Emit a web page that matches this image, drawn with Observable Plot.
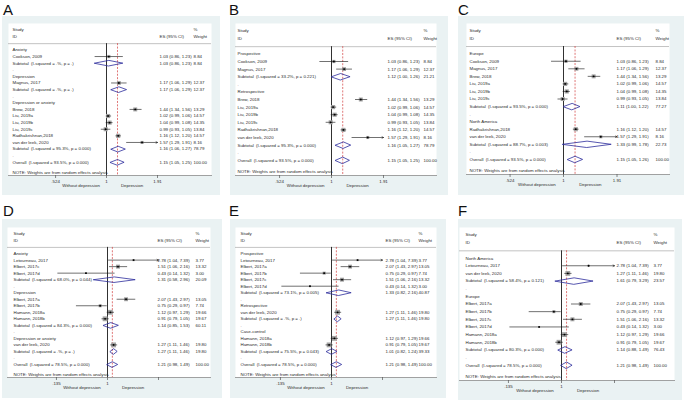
<!DOCTYPE html>
<html><head><meta charset="utf-8">
<script src="https://cdn.jsdelivr.net/npm/d3@7"></script>
<script src="https://cdn.jsdelivr.net/npm/@observablehq/plot@0.6"></script>
<style>
body{margin:0;background:#fff;font-family:"Liberation Sans",Arial,sans-serif;}
#wrap{position:relative;width:685px;height:400px;overflow:hidden;background:#fff;}
.letter{position:absolute;font-size:15px;line-height:1;color:#111;}
.panel{position:absolute;background:#eaf2f3;}
.panel svg{display:block;overflow:visible;}
</style></head><body><div id="wrap"></div>
<script>
// ---------- DATA ----------
const A_label = ["Anxiety","Cookson, 2009","Subtotal  (I-squared = .%, p = .)",".","Depression","Magnus, 2017","Subtotal  (I-squared = .%, p = .)",".","Depression or anxiety","Brew, 2018","Liu, 2019a","Liu, 2019b","Liu, 2019c","Radhakrishnan,2018","van der leek, 2020","Subtotal  (I-squared = 95.3%, p = 0.000)",".","Overall  (I-squared = 93.5%, p = 0.000)"];
const A_es = [null,1.03,1.03,null,null,1.17,1.17,null,null,1.44,1.02,1.04,0.99,1.16,1.57,1.16,null,1.15];
const A_lo = [null,0.86,0.86,null,null,1.06,1.06,null,null,1.34,0.99,0.99,0.93,1.12,1.29,1.06,null,1.05];
const A_hi = [null,1.23,1.23,null,null,1.29,1.29,null,null,1.56,1.06,1.08,1.05,1.20,1.91,1.27,null,1.25];
const A_wt = [null,8.84,8.84,null,null,12.37,12.37,null,null,13.29,14.57,14.35,13.84,14.57,8.16,78.79,null,100.00];

const B_label = ["Prospective","Cookson, 2009","Magnus, 2017","Subtotal  (I-squared = 33.2%, p = 0.221)",".","Retrospective","Brew, 2018","Liu, 2019a","Liu, 2019b","Liu, 2019c","Radhakrishnan,2018","van der leek, 2020","Subtotal  (I-squared = 95.3%, p = 0.000)",".","Overall  (I-squared = 93.5%, p = 0.000)"];
const B_es = [null,1.03,1.17,1.12,null,null,1.44,1.02,1.04,0.99,1.16,1.57,1.16,null,1.15];
const B_lo = [null,0.86,1.06,1.00,null,null,1.34,0.99,0.99,0.93,1.12,1.29,1.05,null,1.05];
const B_hi = [null,1.23,1.29,1.26,null,null,1.56,1.06,1.08,1.05,1.20,1.91,1.27,null,1.25];
const B_wt = [null,8.84,12.37,21.21,null,null,13.29,14.57,14.35,13.84,14.57,8.16,78.79,null,100.00];

const C_label = ["Europe","Cookson, 2009","Magnus, 2017","Brew, 2018","Liu, 2019a","Liu, 2019b","Liu, 2019c","Subtotal  (I-squared = 93.5%, p = 0.000)",".","North America","Radhakrishnan,2018","van der leek, 2020","Subtotal  (I-squared = 88.7%, p = 0.003)",".","Overall  (I-squared = 93.5%, p = 0.000)"];
const C_es = [null,1.03,1.17,1.44,1.02,1.04,0.99,1.11,null,null,1.16,1.57,1.33,null,1.15];
const C_lo = [null,0.86,1.06,1.34,0.99,0.99,0.93,1.00,null,null,1.12,1.29,0.99,null,1.05];
const C_hi = [null,1.23,1.29,1.56,1.06,1.08,1.05,1.22,null,null,1.20,1.91,1.78,null,1.26];
const C_wt = [null,8.84,12.37,13.29,14.57,14.35,13.84,77.27,null,null,14.57,8.16,22.73,null,100.00];

const D_label = ["Anxiety","Letourneau, 2017","Elbert, 2017c","Elbert, 2017d","Subtotal  (I-squared = 68.0%, p = 0.044)",".","Depression","Elbert, 2017a","Elbert, 2017b","Hamann, 2018a","Hamann, 2018b","Subtotal  (I-squared = 84.3%, p = 0.000)",".","Depression or anxiety","van der leek, 2020","Subtotal  (I-squared = .%, p = .)",".","Overall  (I-squared = 78.5%, p = 0.000)"];
const D_es = [null,2.78,1.51,0.43,1.31,null,null,2.07,0.75,1.12,0.91,1.14,null,null,1.27,1.27,null,1.21];
const D_lo = [null,1.04,1.06,0.14,0.58,null,null,1.43,0.29,0.97,0.79,0.85,null,null,1.11,1.11,null,0.98];
const D_hi = [null,7.39,2.16,1.32,2.96,null,null,2.97,0.97,1.29,1.05,1.53,null,null,1.46,1.46,null,1.49];
const D_wt = [null,3.77,13.32,3.00,20.09,null,null,13.05,7.74,19.66,19.67,60.11,null,null,19.80,19.80,null,100.00];

const E_label = ["Prospective","Letourneau, 2017","Elbert, 2017a","Elbert, 2017b","Elbert, 2017c","Elbert, 2017d","Subtotal  (I-squared = 73.1%, p = 0.005)",".","Retrospective","van der leek, 2020","Subtotal  (I-squared = .%, p = .)",".","Case-control","Hamann, 2018a","Hamann, 2018b","Subtotal  (I-squared = 75.5%, p = 0.043)",".","Overall  (I-squared = 78.5%, p = 0.000)"];
const E_es = [null,2.78,2.07,0.75,1.51,0.43,1.33,null,null,1.27,1.27,null,null,1.12,0.91,1.01,null,1.21];
const E_lo = [null,1.04,1.43,0.29,1.06,0.14,0.82,null,null,1.11,1.11,null,null,0.97,0.79,0.82,null,0.98];
const E_hi = [null,7.39,2.97,0.97,2.16,1.32,2.16,null,null,1.46,1.46,null,null,1.29,1.05,1.24,null,1.49];
const E_wt = [null,3.77,13.05,7.74,13.32,3.00,40.87,null,null,19.80,19.80,null,null,19.66,19.67,39.33,null,100.00];

const F_label = ["North America","Letourneau, 2017","van der leek, 2020","Subtotal  (I-squared = 58.4%, p = 0.121)",".","Europe","Elbert, 2017a","Elbert, 2017b","Elbert, 2017c","Elbert, 2017d","Hamann, 2018a","Hamann, 2018b","Subtotal  (I-squared = 80.3%, p = 0.000)",".","Overall  (I-squared = 78.5%, p = 0.000)"];
const F_es = [null,2.78,1.27,1.61,null,null,2.07,0.75,1.51,0.43,1.12,0.91,1.14,null,1.21];
const F_lo = [null,1.04,1.11,0.79,null,null,1.43,0.29,1.06,0.14,0.97,0.79,0.88,null,0.98];
const F_hi = [null,7.39,1.46,3.29,null,null,2.97,0.97,2.16,1.32,1.29,1.05,1.49,null,1.49];
const F_wt = [null,3.77,19.80,23.57,null,null,13.05,7.74,13.32,3.00,19.66,19.67,76.43,null,100.00];

const ticksTop = [0.524, 1, 1.91];
const tickLabelsTop = [".524", "1", "1.91"];
const ticksBottom = [0.135, 1, 7.39];
const tickLabelsBottom = [".135", "1", "7.39"];
const sideCaptions = ["Without depression", "Depression"];
const headerLeft = ["Study", "ID"];
const headerES = "ES (95% CI)";
const headerWeight = ["%", "Weight"];
const noteText = "NOTE: Weights are from random effects analysis";

// ---------- LAYOUT ----------
const panels = [
  {id:"A", label:A_label, es:A_es, lo:A_lo, hi:A_hi, wt:A_wt, ticks:ticksTop, tickLabels:tickLabelsTop,
   letter:[3,2], bg:[2,16,220,195], frame:[8,23,211,175], one:106, tickPx:51, labelX:12, esX:159, wX:193},
  {id:"B", label:B_label, es:B_es, lo:B_lo, hi:B_hi, wt:B_wt, ticks:ticksTop, tickLabels:tickLabelsTop,
   letter:[229,2], bg:[230,16,448,195], frame:[235,23,436,175], one:331, tickPx:52, labelX:237, esX:387, wX:423},
  {id:"C", label:C_label, es:C_es, lo:C_lo, hi:C_hi, wt:C_wt, ticks:ticksTop, tickLabels:tickLabelsTop,
   letter:[458,2], bg:[458,16,684,195], frame:[466,23,669,174], one:563, tickPx:53.5, labelX:469, esX:616, wX:655},
  {id:"D", label:D_label, es:D_es, lo:D_lo, hi:D_hi, wt:D_wt, ticks:ticksBottom, tickLabels:tickLabelsBottom,
   letter:[3,203], bg:[2,219,222,398], frame:[7,227,210,377], one:107, tickPx:51, labelX:13, esX:157, wX:195},
  {id:"E", label:E_label, es:E_es, lo:E_lo, hi:E_hi, wt:E_wt, ticks:ticksBottom, tickLabels:tickLabelsBottom,
   letter:[229,203], bg:[230,219,446,398], frame:[235,227,436,377], one:331, tickPx:51, labelX:240, esX:385, wX:418},
  {id:"F", label:F_label, es:F_es, lo:F_lo, hi:F_hi, wt:F_wt, ticks:ticksBottom, tickLabels:tickLabelsBottom,
   letter:[458,203], bg:[458,219,682,400], frame:[459,227,674,380], one:561, tickPx:53, labelX:465, esX:616, wX:653}
];

const wrap = document.getElementById("wrap");
const FS = 4.4;
const TXT = "#2a2a2a";
const DIAMOND = "#2c2c9c";

for (const p of panels) {
  const rows = p.label.map((l, i) => ({label: l, r: i, es: p.es[i], lo: p.lo[i], hi: p.hi[i], wt: p.wt[i]}));
  const n = rows.length;
  const isPooled = d => /^(Subtotal|Overall)/.test(d.label);
  const studies = rows.filter(d => d.es != null && !isPooled(d));
  const pooled = rows.filter(d => d.es != null && isPooled(d));
  const overall = rows.find(d => /^Overall/.test(d.label));
  const tMin = p.ticks[0], tMax = p.ticks[p.ticks.length - 1];
  const plain = studies.filter(d => d.hi < tMax);
  const arrowed = studies.filter(d => d.hi >= tMax);
  const hh = 0.42;
  const diamondPts = pooled.flatMap(d => [
    {x: d.lo, y: d.r, z: d.r}, {x: d.es, y: d.r - hh, z: d.r},
    {x: d.hi, y: d.r, z: d.r}, {x: d.es, y: d.r + hh, z: d.r}
  ]);

  const [bx0, by0, bx1, by1] = p.bg;
  const [fx0, fy0, fx1, fy1] = p.frame;
  const width = bx1 - bx0, height = by1 - by0;
  const W = fx1 - fx0;
  const p1 = p.one - fx0;
  const k = Math.log(tMax) / p.tickPx;
  const xDomain = [Math.exp(-p1 * k), Math.exp((W - p1) * k)];
  const yTop = -4, yBot = n + 1;
  const sep = -0.95;

  const letter = document.createElement("div");
  letter.className = "letter";
  letter.style.left = p.letter[0] + "px";
  letter.style.top = p.letter[1] + "px";
  letter.textContent = p.id;
  wrap.appendChild(letter);

  const box = document.createElement("div");
  box.className = "panel";
  box.style.left = bx0 + "px"; box.style.top = by0 + "px";
  box.style.width = width + "px"; box.style.height = height + "px";
  wrap.appendChild(box);

  const tf = d => p.tickLabels[p.ticks.indexOf(d)];
  const capX = [Math.sqrt(tMin * 1), Math.sqrt(tMax * 1)];
  const caps = sideCaptions.map((t, i) => ({t, x: capX[i]}));

  const chart = Plot.plot({
    width, height,
    marginLeft: fx0 - bx0, marginRight: bx1 - fx1,
    marginTop: fy0 - by0, marginBottom: by1 - fy1,
    style: {fontFamily: "'Liberation Sans', Arial, sans-serif", fontSize: FS + "px", background: "transparent", color: TXT, overflow: "visible"},
    x: {type: "log", domain: xDomain, axis: null},
    y: {type: "linear", domain: [yTop, yBot], range: [fy0 - by0, fy1 - by0], axis: null},
    r: {type: "sqrt", domain: [0, 20], range: [0, 2.75]},
    marks: [
      Plot.frame({fill: "white", stroke: "none"}),
      Plot.frame({anchor: "bottom", stroke: "#8a8a8a", strokeWidth: 0.8}),
      Plot.ruleY([sep], {stroke: "#9a9a9a", strokeWidth: 0.6}),
      Plot.ruleX([1], {y1: sep, y2: yBot, stroke: "#1a1a1a", strokeWidth: 0.9}),
      Plot.ruleX([overall.es], {y1: sep, y2: yBot, stroke: "#d23c3c", strokeWidth: 0.7, strokeDasharray: "2,1.4"}),
      Plot.dot(studies, {x: "es", y: "r", r: "wt", symbol: "square", fill: "#a3a3a3", stroke: "none"}),
      Plot.link(plain, {x1: "lo", x2: "hi", y1: "r", y2: "r", stroke: "#111", strokeWidth: 0.6}),
      Plot.arrow(arrowed, {x1: "lo", x2: "hi", y1: "r", y2: "r", stroke: "#111", strokeWidth: 0.6, headLength: 4, headAngle: 55}),
      Plot.dot(studies, {x: "es", y: "r", r: 0.9, fill: "#000", stroke: "none"}),
      Plot.line(diamondPts, {x: "x", y: "y", z: "z", curve: "linear-closed", stroke: DIAMOND, strokeWidth: 0.8, fill: "none"}),
      // header
      Plot.text(headerLeft, {y: (d, i) => [-3.1, -2][i], text: d => d, frameAnchor: "left", dx: p.labelX - fx0, textAnchor: "start", fontSize: FS, fill: TXT}),
      Plot.text([headerES], {y: () => -2, text: d => d, frameAnchor: "left", dx: p.esX - fx0, textAnchor: "start", fontSize: FS, fill: TXT}),
      Plot.text(headerWeight, {y: (d, i) => [-3.1, -2][i], text: d => d, frameAnchor: "left", dx: p.wX - fx0, textAnchor: "start", fontSize: FS, fill: TXT}),
      // row labels
      Plot.text(rows, {y: "r", text: "label", frameAnchor: "left", dx: p.labelX - fx0, textAnchor: "start", fontSize: FS, fill: TXT}),
      Plot.text(rows.filter(d => d.es != null), {y: "r", text: d => `${d.es.toFixed(2)} (${d.lo.toFixed(2)}, ${d.hi.toFixed(2)})`, frameAnchor: "left", dx: p.esX - fx0, textAnchor: "start", fontSize: FS, fill: TXT}),
      Plot.text(rows.filter(d => d.es != null), {y: "r", text: d => d.wt.toFixed(2), frameAnchor: "left", dx: p.wX - fx0, textAnchor: "start", fontSize: FS, fill: TXT}),
      Plot.text([noteText], {y: () => overall.r + 1.5, text: d => d, frameAnchor: "left", dx: p.labelX - fx0, textAnchor: "start", fontSize: FS, fill: TXT}),
      // axis
      Plot.axisX({ticks: p.ticks, tickFormat: tf, tickSize: 3, tickPadding: 1, fontSize: FS, stroke: "#555", strokeWidth: 0.7, color: TXT}),
      Plot.text(caps, {x: "x", text: "t", frameAnchor: "bottom", dy: 11, fontSize: FS, fill: TXT})
    ]
  });
  box.appendChild(chart);
}
</script>
</body></html>
